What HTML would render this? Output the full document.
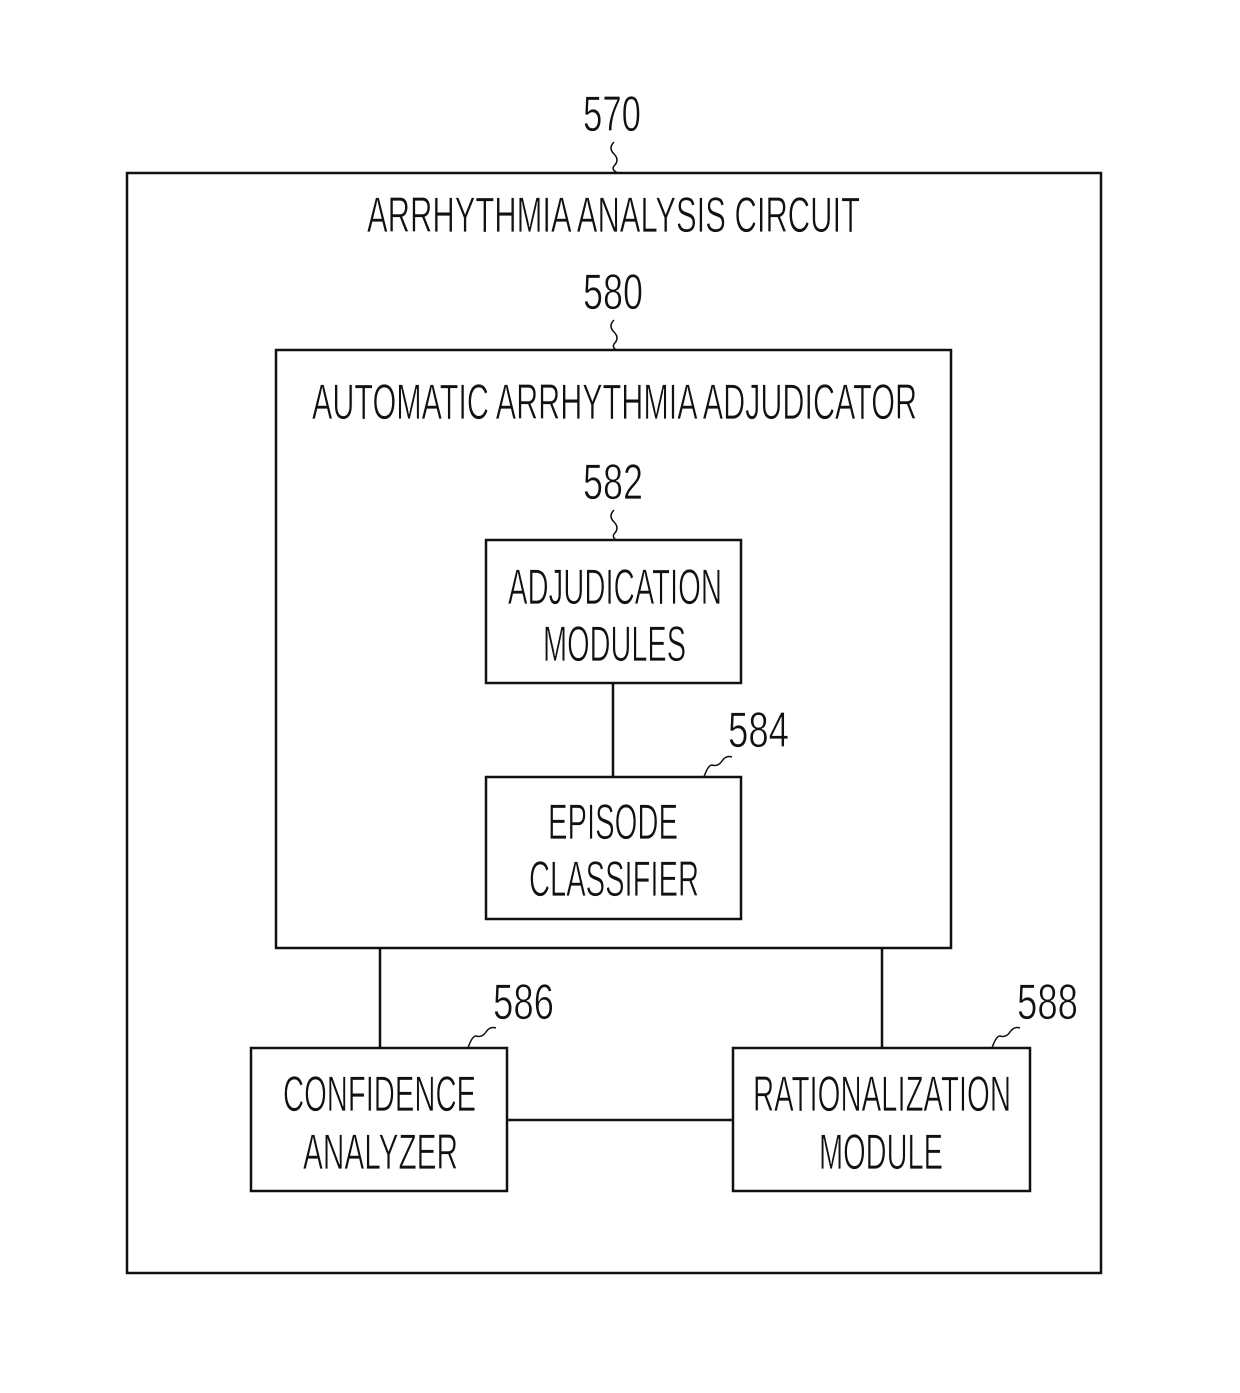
<!DOCTYPE html>
<html><head><meta charset="utf-8"><style>html,body{margin:0;padding:0;background:#fff}svg{display:block}</style></head>
<body>
<svg width="1240" height="1393" viewBox="0 0 1240 1393" xmlns="http://www.w3.org/2000/svg" font-family="Liberation Sans, sans-serif" fill="#111">
<g fill="none" stroke="#111" stroke-width="2.5">
<rect x="127" y="173" width="974" height="1100"/>
<rect x="276" y="350" width="675" height="598"/>
<rect x="486" y="540" width="255" height="143"/>
<rect x="486" y="777" width="255" height="142"/>
<rect x="251" y="1048" width="256" height="143"/>
<rect x="733" y="1048" width="297" height="143"/>
<line x1="613" y1="683" x2="613" y2="777"/>
<line x1="380" y1="948" x2="380" y2="1048"/>
<line x1="882" y1="948" x2="882" y2="1048"/>
<line x1="507" y1="1120" x2="733" y2="1120"/>
<g stroke-width="1.5">
<path d="M614 142 q-6 6 0 12 q6 6 0 12 q-3 4 4 7"/>
<path d="M614 320 q-6 6 0 12 q6 6 0 12 q-2 3 2 6"/>
<path d="M614 510 q-6 6 0 12 q6 6 0 12 q-2 3 2 6"/>
<path d="M732 757 q-6 -2 -10 4 q-4 6 -10 4 q-4 0 -8 12"/>
<path d="M496 1028 q-6 -2 -10 4 q-4 6 -10 4 q-4 0 -8 12"/>
<path d="M1020 1028 q-6 -2 -10 4 q-4 6 -10 4 q-4 0 -8 12"/>
</g>
</g>
<g font-size="50" stroke="#fff" stroke-width="0.8">
<text x="583" y="131" textLength="58" lengthAdjust="spacingAndGlyphs">570</text>
<text x="367" y="232" textLength="493" lengthAdjust="spacingAndGlyphs">ARRHYTHMIA  ANALYSIS  CIRCUIT</text>
<text x="583" y="309" textLength="60" lengthAdjust="spacingAndGlyphs">580</text>
<text x="312" y="419" textLength="605" lengthAdjust="spacingAndGlyphs">AUTOMATIC  ARRHYTHMIA  ADJUDICATOR</text>
<text x="583" y="499" textLength="60" lengthAdjust="spacingAndGlyphs">582</text>
<text x="508" y="604" textLength="214" lengthAdjust="spacingAndGlyphs">ADJUDICATION</text>
<text x="543" y="661" textLength="143" lengthAdjust="spacingAndGlyphs">MODULES</text>
<text x="728" y="747" textLength="61" lengthAdjust="spacingAndGlyphs">584</text>
<text x="548" y="839" textLength="130" lengthAdjust="spacingAndGlyphs">EPISODE</text>
<text x="529" y="896" textLength="170" lengthAdjust="spacingAndGlyphs">CLASSIFIER</text>
<text x="493" y="1019" textLength="61" lengthAdjust="spacingAndGlyphs">586</text>
<text x="283" y="1111" textLength="193" lengthAdjust="spacingAndGlyphs">CONFIDENCE</text>
<text x="303" y="1169" textLength="155" lengthAdjust="spacingAndGlyphs">ANALYZER</text>
<text x="1017" y="1019" textLength="61" lengthAdjust="spacingAndGlyphs">588</text>
<text x="753" y="1111" textLength="258" lengthAdjust="spacingAndGlyphs">RATIONALIZATION</text>
<text x="819" y="1169" textLength="124" lengthAdjust="spacingAndGlyphs">MODULE</text>
</g>
</svg>
</body></html>
